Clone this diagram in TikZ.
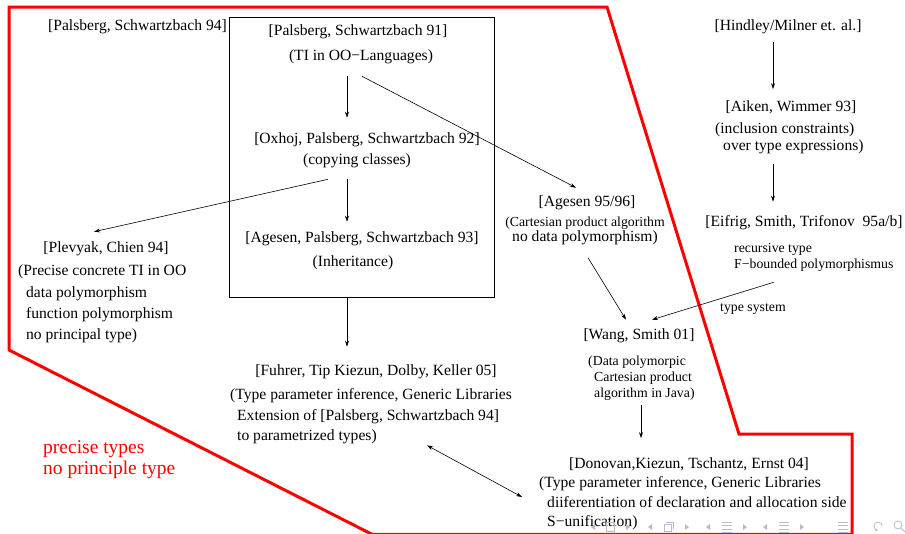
\documentclass[tikz,border=0pt]{standalone}
\usepackage{fontspec}
\setmainfont{Liberation Serif}
\usepackage{tikz}
\usetikzlibrary{calc, arrows.meta, positioning}
\usepackage{tkz-euclide}
\definecolor{navgray}{RGB}{185,185,210}

\begin{document}
\begin{tikzpicture}[x=1pt, y=-1pt,
  every node/.style={inner sep=1pt},
  ref/.style={font=\fontsize{15.6}{21}\selectfont},
  refl/.style={ref, align=left, anchor=west},
  small/.style={font=\fontsize{13.8}{16}\selectfont, align=left, anchor=west},
  arr/.style={-{Stealth[length=6pt,width=4pt]}, line width=0.6pt},
  frontier/.style={red, line width=3pt, line join=miter}]
\useasboundingbox (0,0) rectangle (905,533);

% the red region
\tkzDefPoints{9/7/R1, 607/7/R2, 739/434/R3, 852/434/R4, 852/534.3/R5, 372/534.3/R6, 9/350/R7}
\tkzDrawPolygon[frontier](R1,R2,R3,R4,R5,R6,R7)

% Palsberg/Schwartzbach cluster
\node[draw, line width=0.7pt, minimum width=265, minimum height=280] (cluster) at (361.5,157) {};
\node[ref] (ps94) at (137.5,27) {[Palsberg, Schwartzbach 94]};
\node[ref] (ps91) at (358,32) {[Palsberg, Schwartzbach 91]};
\node[ref] (ps91n) at (361,57) {(TI in OO−Languages)};
\node[ref] (oxhoj) at (367,140) {[Oxhoj, Palsberg, Schwartzbach 92]};
\node[ref] (oxhojn) at (357,161) {(copying classes)};
\node[ref] (ags93) at (362,239) {[Agesen, Palsberg, Schwartzbach 93]};
\node[ref] (ags93n) at (353,263) {(Inheritance)};
\coordinate (spine) at (347,0);

\node[ref] (plev) at (106,249) {[Plevyak, Chien 94]};
\node[refl, font=\fontsize{15.6}{21.3}\selectfont] (plevn) at (17,304)
  {(Precise concrete TI in OO\\\hspace*{8pt}data polymorphism\\\hspace*{8pt}function polymorphism\\\hspace*{8pt}no principal type)};

\node[ref] (fuhrer) at (376,372) {[Fuhrer, Tip Kiezun, Dolby, Keller 05]};
\node[refl, font=\fontsize{15.6}{20.5}\selectfont] (fuhrern) at (229,416.5)
  {(Type parameter inference, Generic Libraries\\\hspace*{7pt}Extension of [Palsberg, Schwartzbach 94]\\\hspace*{7pt}to parametrized types)};

\node[refl, red, font=\fontsize{19.5}{21}\selectfont] (regionlbl) at (42,459.5) {precise types\\no principle type};

% Agesen / Wang / Donovan
\node[ref] (ags96) at (587,203) {[Agesen 95/96]};
\node[ref, align=center, font=\fontsize{15.6}{15}\selectfont] (ags96n) at (585,230.5)
  {{\fontsize{13.8}{15}\selectfont(Cartesian product algorithm}\\no data polymorphism)};
\node[ref] (wang) at (639,336) {[Wang, Smith 01]};
\node[small] (wangn) at (587,378) {(Data polymorpic\\\hspace*{6pt}Cartesian product\\\hspace*{6pt}algorithm in Java)};
\coordinate (spinec) at (641,0);
\node[ref] (donov) at (689,464) {[Donovan,Kiezun, Tschantz, Ernst 04]};
\node[refl, font=\fontsize{15.6}{19.5}\selectfont] (donovn) at (538,503.5)
  {(Type parameter inference, Generic Libraries\\\hspace*{8pt}diiferentiation of declaration and allocation side\\\hspace*{8pt}S−unification)};

% Hindley/Milner line
\node[ref] (hm) at (788,27) {[Hindley/Milner et. al.]};
\node[ref] (aiken) at (791,107) {[Aiken, Wimmer 93]};
\node[refl, font=\fontsize{15.6}{17}\selectfont] (aikenn) at (714,138.5) {(inclusion constraints)\\\hspace*{8pt}over type expressions)};
\node[ref] (eifrig) at (804,223) {[Eifrig, Smith, Trifonov\ \ 95a/b]};
\node[small] (eifrign) at (733,257) {recursive type\\F−bounded polymorphismus};
\node[small] (tsys) at (719,309) {type system};
\coordinate (spineb) at (773,0);

% connectors
\draw[arr, shorten <=11pt, shorten >=14pt] (spine |- ps91n.south) -- (spine |- oxhoj.north);
\draw[arr, shorten <=10pt, shorten >=9pt] (spine |- oxhojn.south) -- (spine |- ags93.north);
\draw[arr, shorten >=17pt] (spine |- cluster.south) -- (spine |- fuhrer.north);
\draw[arr] ([shift={(1,11)}]ps91n.south) -- ([shift={(-11,-7)}]ags96.north);
\draw[arr] ([shift={(-29,10)}]oxhojn.south) -- ([shift={(-12,-9)}]plev.north);
\draw[arr] ([shift={(3,12)}]ags96n.south) -- ([shift={(-13,-8)}]wang.north);
\draw[arr] ([shift={(-40,10)}]eifrign.south) -- ([shift={(13,-8)}]wang.north);
\draw[arr, shorten <=7pt, shorten >=10pt] (spineb |- hm.south) -- (spineb |- aiken.north);
\draw[arr, shorten <=9pt, shorten >=13pt] (spineb |- aikenn.south) -- (spineb |- eifrig.north);
\draw[arr, shorten <=4pt, shorten >=18pt] (spinec |- wangn.south) -- (spinec |- donov.north);
\draw[{Stealth[length=6pt,width=4pt]}-{Stealth[length=6pt,width=4pt]}, line width=0.6pt]
  ([shift={(56,0)}]fuhrern.south) -- ([shift={(-16,-6.5)}]donovn.west);

% navigation symbols
\begin{scope}[navgray, line width=0.8pt]
  \foreach \x in {593,650,708,765} \fill (\x+2,524) -- (\x-2,527) -- (\x+2,530) -- cycle;
  \foreach \x in {628,687,745,802} \fill (\x-2,524) -- (\x+2,527) -- (\x-2,530) -- cycle;
  \draw (606,522) rectangle (614,531);
  \draw (664,524) rectangle (671,531) (666,522) -- (673,522) -- (673,529);
  \foreach \x in {727,784,843} \draw (\x-5,522) -- (\x+5,522) (\x-5,525.5) -- (\x+5,525.5) (\x-5,529) -- (\x+5,529) (\x-5,532) -- (\x+5,532);
  \draw[-{Stealth[length=3pt,width=3pt]}] (882,526) arc (0:-270:4);
  \draw (898,525) circle (4) (901,528) -- (905,532);
\end{scope}
\end{tikzpicture}
\end{document}
